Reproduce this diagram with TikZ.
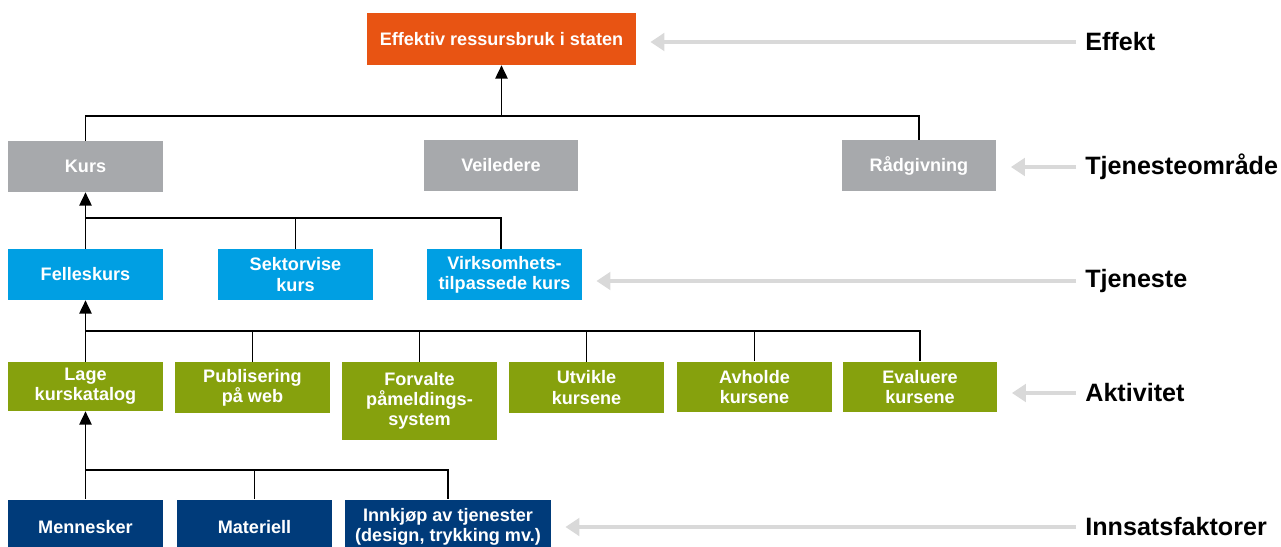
\documentclass[tikz,border=0pt]{standalone}
\usepackage{fontspec}
\setmainfont{Liberation Sans}
\usetikzlibrary{arrows.meta,calc}
\definecolor{effcol}{HTML}{E85413}
\definecolor{areacol}{HTML}{A7A9AC}
\definecolor{servcol}{HTML}{009FE3}
\definecolor{actcol}{HTML}{86A10D}
\definecolor{inpcol}{HTML}{003B7A}
\definecolor{arrowgray}{HTML}{D9D9D9}

\begin{document}
\begin{tikzpicture}[x=0.02cm,y=-0.02cm,>={Triangle[length=7.5pt,width=7pt]},
	box/.style={text=white,font=\bfseries\fontsize{10.3}{11.5}\selectfont,align=center,minimum width=3.1cm,minimum height=1.02cm,inner sep=1pt},
	levellabel/.style={anchor=west,inner sep=0pt,font=\bfseries\fontsize{14.3}{16}\selectfont},
	link/.style={draw=black,line width=0.8pt},
	graylink/.style={draw=arrowgray,line width=2pt,-{Triangle[length=8pt,width=10pt]},shorten <=5pt,shorten >=8pt}]
	\useasboundingbox (0,0) rectangle (1281,547);
	\clip (0,0) rectangle (1281,547);
	% boxes
	\node[box,fill=effcol,minimum width=5.38cm,minimum height=1.04cm] (eff) at (501.5,39) {Effektiv ressursbruk i staten};
	\node[box,fill=areacol] (kurs) at (85.5,166.5) {Kurs};
	\node[box,fill=areacol] (veil) at (501,165.5) {Veiledere};
	\node[box,fill=areacol] (raad) at (919,165.5) {Rådgivning};
	\node[box,fill=servcol] (felles) at (85.5,274.5) {Felleskurs};
	\node[box,fill=servcol] (sektor) at (295.5,274.5) {Sektorvise\\kurs};
	\node[box,fill=servcol] (virk) at (504.5,274.5) {Virksomhets-\\tilpassede kurs};
	\node[box,fill=actcol,minimum height=0.98cm] (lage) at (85.5,386.5) {Lage\\kurskatalog};
	\node[box,fill=actcol] (pub) at (252.5,387.5) {Publisering\\på web};
	\node[box,fill=actcol,minimum height=1.56cm] (forv) at (419.5,401) {Forvalte\\påmeldings-\\system};
	\node[box,fill=actcol] (utv) at (586.5,387.5) {Utvikle\\kursene};
	\node[box,fill=actcol] (avh) at (754.5,387) {Avholde\\kursene};
	\node[box,fill=actcol] (eval) at (920,387) {Evaluere\\kursene};
	\node[box,fill=inpcol,minimum height=1.1cm] (menn) at (85.5,527) {Mennesker};
	\node[box,fill=inpcol,minimum height=1.1cm] (mat) at (254.5,527) {Materiell};
	\node[box,fill=inpcol,minimum height=1.1cm,minimum width=4.12cm] (innk) at (448,527) {Innkjøp av tjenester\\(design, trykking mv.)};
	% junctions
	\coordinate (j1) at (501.5,116);
	\coordinate (j2) at (85.5,218);
	\coordinate (j3) at (85.5,331);
	\coordinate (j4) at (85.5,470);
	\coordinate (vtop) at (501,249);
	% tree lines
	\draw[link] (kurs.north) |- (j1) -| (raad.north);
	\draw[link,->] (j1) -- (eff.south);
	\draw[link] (felles.north) |- (vtop |- j2) -- (vtop);
	\draw[link] (sektor.north) -- (sektor.north |- j2);
	\draw[link,->] (j2) -- (kurs.south);
	\draw[link] (lage.north) |- (eval.north |- j3) -- (eval.north);
	\foreach \n in {pub,forv,utv,avh}{
		\draw[link] (\n.north) -- (\n.north |- j3);
	}
	\draw[link,->] (j3) -- (felles.south);
	\draw[link] (menn.north) |- (innk.north |- j4) -- (innk.north);
	\draw[link] (mat.north) -- (mat.north |- j4);
	\draw[link,->] (j4) -- (lage.south);
	% level labels
	\node[levellabel] (leff) at (1085,42) {Effekt};
	\node[levellabel] (larea) at (1085,167) {Tjenesteområde};
	\node[levellabel] (lserv) at (1085,281) {Tjeneste};
	\node[levellabel] (lact) at (1085,393) {Aktivitet};
	\node[levellabel] (linp) at (1085,527) {Innsatsfaktorer};
	\draw[graylink] (leff.west) -- (leff.west -| eff.east);
	\draw[graylink] (larea.west) -- (larea.west -| raad.east);
	\draw[graylink] (lserv.west) -- (lserv.west -| virk.east);
	\draw[graylink] (lact.west) -- (lact.west -| eval.east);
	\draw[graylink] (linp.west) -- (linp.west -| innk.east);
\end{tikzpicture}
\end{document}
